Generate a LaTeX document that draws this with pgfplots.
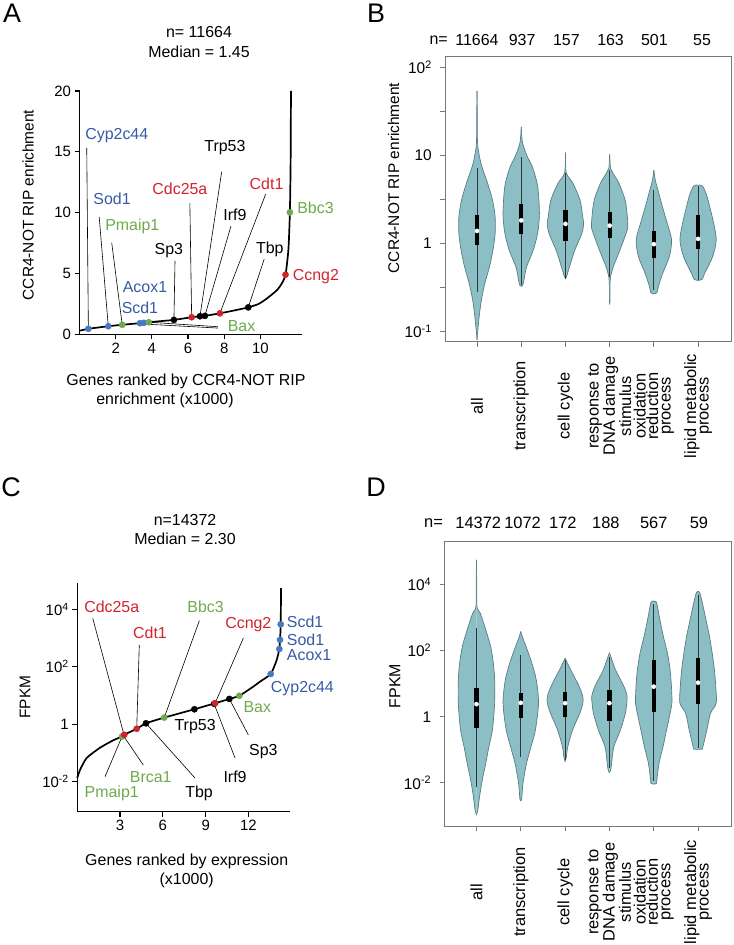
\documentclass[border=0pt]{standalone}
\usepackage{fontspec}
\setmainfont{Liberation Sans}
\usepackage{pgfplots}
\pgfplotsset{compat=1.18}
\usepackage{pgfplotstable}

\definecolor{cred}{RGB}{210,35,45}
\definecolor{cblue}{RGB}{55,90,165}
\definecolor{cbluedot}{RGB}{70,120,195}
\definecolor{cgreen}{RGB}{110,170,75}
\definecolor{vfill}{RGB}{139,190,197}
\definecolor{vout}{RGB}{90,125,130}
\definecolor{wcol}{RGB}{45,55,55}
\definecolor{fgray}{RGB}{120,120,120}

\newcommand\fs[1]{\fontsize{#1}{#1}\selectfont}

% ---- violin outlines, panel B (v = log10 value, w = half width) ----
\pgfplotstableread{
v w
1.73 0.000
1.45 0.006
1.14 0.012
1.00 0.05
0.87 0.11
0.68 0.24
0.49 0.35
0.30 0.41
0.11 0.41
-0.08 0.36
-0.27 0.28
-0.45 0.18
-0.64 0.10
-0.83 0.05
-1.02 0.012
-1.10 0.000
}\vBa
\pgfplotstableread{
v w
1.32 0.000
1.14 0.03
0.98 0.14
0.87 0.25
0.68 0.36
0.49 0.40
0.30 0.41
0.11 0.37
-0.08 0.27
-0.27 0.12
-0.42 0.06
-0.48 0.03
-0.49 0.000
}\vBb
\pgfplotstableread{
v w
1.03 0.000
0.80 0.02
0.68 0.17
0.49 0.33
0.30 0.39
0.22 0.41
0.11 0.37
-0.08 0.21
-0.27 0.09
-0.37 0.03
-0.40 0.000
}\vBc
\pgfplotstableread{
v w
1.01 0.000
0.85 0.02
0.79 0.08
0.68 0.21
0.49 0.35
0.30 0.40
0.18 0.41
0.11 0.37
-0.08 0.23
-0.27 0.08
-0.38 0.02
-0.45 0.008
-0.66 0.006
-0.67 0.000
}\vBd
\pgfplotstableread{
v w
0.83 0.000
0.72 0.03
0.60 0.094
0.42 0.19
0.23 0.30
0.04 0.40
-0.15 0.35
-0.34 0.20
-0.49 0.10
-0.56 0.07
-0.575 0.000
}\vBe
\pgfplotstableread{
v w
0.66 0.000
0.65 0.10
0.55 0.19
0.42 0.26
0.23 0.35
0.04 0.41
-0.15 0.33
-0.34 0.15
-0.41 0.09
-0.42 0.000
}\vBf

% ---- violin outlines, panel D ----
\pgfplotstableread{
v w
4.75 0.000
4.00 0.006
3.33 0.012
3.13 0.087
2.63 0.21
2.12 0.32
1.62 0.38
1.11 0.41
0.41 0.41
-0.40 0.36
-0.91 0.28
-1.41 0.21
-1.92 0.13
-2.42 0.07
-2.83 0.03
-2.98 0.000
}\vDa
\pgfplotstableread{
v w
2.58 0.000
2.40 0.04
2.12 0.12
1.62 0.25
1.11 0.35
0.41 0.40
-0.40 0.33
-0.91 0.23
-1.41 0.13
-1.92 0.06
-2.22 0.035
-2.50 0.02
-2.55 0.000
}\vDb
\pgfplotstableread{
v w
1.77 0.000
1.60 0.06
1.41 0.13
0.91 0.32
0.61 0.40
0.41 0.40
0.10 0.33
-0.40 0.17
-0.91 0.06
-1.20 0.03
-1.36 0.000
}\vDc
\pgfplotstableread{
v w
1.94 0.000
1.75 0.05
1.41 0.14
0.91 0.33
0.61 0.40
0.41 0.39
0.10 0.36
-0.40 0.25
-0.91 0.10
-1.41 0.05
-1.60 0.03
-1.70 0.000
}\vDd
\pgfplotstableread{
v w
3.48 0.000
3.47 0.06
2.93 0.14
2.42 0.22
1.92 0.31
1.41 0.37
0.91 0.40
0.61 0.41
0.41 0.41
0.10 0.37
-0.40 0.29
-0.91 0.21
-1.41 0.12
-1.92 0.07
-2.02 0.06
-2.04 0.000
}\vDe
\pgfplotstableread{
v w
3.79 0.000
3.75 0.04
3.43 0.10
2.93 0.18
2.42 0.26
1.92 0.32
1.41 0.37
0.91 0.40
0.41 0.41
0.10 0.28
-0.40 0.20
-0.91 0.11
-0.98 0.10
-0.99 0.000
}\vDf

% each violin: right and left halves, each filled and closed along the centre line
\newcommand\violin[2]{%
 \addplot[fill=vfill, draw=vout, line width=0.7bp, smooth, tension=0.5] table[x expr={#1+\thisrow{w}}, y=v] {#2};
 \addplot[fill=vfill, draw=vout, line width=0.7bp, smooth, tension=0.5] table[x expr={#1-\thisrow{w}}, y=v] {#2};
}
% x, whisker top, whisker bottom, q3, q1, median
\newcommand\violbox[6]{%
 \addplot[wcol, line width=0.8bp] coordinates {(#1,#2) (#1,#3)};
 \addplot[black, line width=4.3bp] coordinates {(#1,#4) (#1,#5)};
 \addplot[only marks, mark=*, mark size=2.1bp, white, draw=white] coordinates {(#1,#6)};
}
% category labels, rotated, centred at height #1 (axis units), font size #2
\newcommand\catlabels[2]{%
 \node[rotate=90, align=center, font=\fontsize{#2}{12.5}\selectfont] at (0,#1) {all};
 \node[rotate=90, align=center, font=\fontsize{#2}{12.5}\selectfont] at (1,#1) {transcription};
 \node[rotate=90, align=center, font=\fontsize{#2}{12.5}\selectfont] at (2,#1) {cell cycle};
 \node[rotate=90, align=center, font=\fontsize{#2}{12.5}\selectfont] at (3,#1) {response to\\DNA damage\\stimulus};
 \node[rotate=90, align=center, font=\fontsize{#2}{12.5}\selectfont] at (4,#1) {oxidation\\reduction\\process};
 \node[rotate=90, align=center, font=\fontsize{#2}{12.5}\selectfont] at (5,#1) {lipid metabolic\\process};
}

\tikzset{lead/.style={line width=0.6bp, black}}
\pgfplotsset{
 curveaxis/.style={scale only axis, anchor=south west, clip=false,
  axis x line*=bottom, axis y line*=left, axis line style={line width=1.3bp},
  tick align=outside, major tick length=5bp, tick style={black, line width=1.1bp},
  ticklabel style={font=\fs{15}}, /pgf/number format/assume math mode=true},
 violaxis/.style={scale only axis, anchor=south west, clip=false,
  axis line style={fgray, line width=0.9bp},
  tick align=outside, major tick length=5bp, tick style={fgray, line width=0.9bp},
  xtick={0,1,2,3,4,5}, xtick pos=left, ytick pos=left,
  xmin=-0.717, xmax=5.76, xticklabels={},
  yticklabel style={font=\fs{15.5}, xshift=-5bp}},
 dot/.style={only marks, mark=*, mark size=3.1bp, color=#1}
}

\begin{document}
\begin{tikzpicture}[x=1bp,y=1bp]
\useasboundingbox (0,0) rectangle (734,945);

% ================= Panel A =================
\node[font=\fs{27}] at (12,932) {A};
\node[font=\fs{16}] at (199,913) {n= 11664};
\node[font=\fs{16}] at (199,893) {Median = 1.45};
\node[font=\fs{15.5}, rotate=90] at (28,740) {CCR4-NOT RIP enrichment};
\node[font=\fs{16}] at (186,563.3) {Genes ranked by CCR4-NOT RIP};
\node[font=\fs{16}] at (165,545) {enrichment (x1000)};

\begin{axis}[curveaxis, at={(79.5bp,610.6bp)}, width=222.5bp, height=243.4bp,
 xmin=0, xmax=12.3, ymin=0, ymax=20,
 xtick={2,4,6,8,10}, ytick={0,5,10,15,20}]
\addplot[black, line width=1.7bp, smooth, tension=0.35] coordinates {
(0,0.30) (0.49,0.46) (1.0,0.56) (1.59,0.67) (2.36,0.79) (3.34,0.92) (3.83,1.0)
(4.5,1.09) (5.22,1.19) (6.2,1.41) (6.66,1.49) (6.93,1.52) (7.76,1.73) (8.6,1.98)
(9.33,2.22) (9.9,2.5) (10.34,2.93) (10.9,3.61) (11.17,4.15) (11.39,4.91)
(11.55,7.0) (11.63,10.03) (11.67,14) (11.69,20)};
% leader lines
\draw[lead] (0.40,15.32) -- (0.49,0.46);
\draw[lead] (1.09,9.63) -- (1.59,0.67);
\draw[lead] (1.78,7.54) -- (2.36,0.79);
\draw[lead] (7.65,0.63) -- (3.83,1.0);
\draw[lead] (7.65,0.52) -- (3.90,0.82);
\draw[lead] (5.28,6.05) -- (5.22,1.19);
\draw[lead] (6.10,10.79) -- (6.20,1.41);
\draw[lead] (7.86,13.37) -- (6.66,1.49);
\draw[lead] (8.37,8.89) -- (6.93,1.52);
\draw[lead] (10.29,11.52) -- (7.76,1.73);
\draw[lead] (10.21,6.19) -- (9.33,2.22);
% dots
\addplot[dot=cbluedot] coordinates {(0.49,0.46) (1.59,0.67) (3.34,0.92) (3.56,0.95)};
\addplot[dot=cgreen] coordinates {(2.36,0.79) (3.83,1.0) (11.63,10.03)};
\addplot[dot=black] coordinates {(5.22,1.19) (6.66,1.49) (6.93,1.52) (9.33,2.22)};
\addplot[dot=cred] coordinates {(6.20,1.41) (7.76,1.73) (11.39,4.91)};
% gene labels
\node[font=\fs{16}, cblue] at (2.06,16.35) {Cyp2c44};
\node[font=\fs{16}, cblue] at (1.80,11.17) {Sod1};
\node[font=\fs{16}, cgreen] at (2.92,8.89) {Pmaip1};
\node[font=\fs{16}] at (8.04,15.34) {Trp53};
\node[font=\fs{16}, cred] at (5.55,12.0) {Cdc25a};
\node[font=\fs{16}, cred] at (10.34,12.41) {Cdt1};
\node[font=\fs{16}] at (8.59,9.85) {Irf9};
\node[font=\fs{16}] at (4.94,6.92) {Sp3};
\node[font=\fs{16}] at (10.52,7.0) {Tbp};
\node[font=\fs{16}, cblue] at (3.62,3.88) {Acox1};
\node[font=\fs{16}, cblue] at (3.34,2.17) {Scd1};
\node[font=\fs{16}, cgreen] at (8.96,0.71) {Bax};
\node[font=\fs{16}, cred, anchor=west, inner sep=0pt] at (11.78,4.75) {Ccng2};
\node[font=\fs{16}, cgreen, anchor=west, inner sep=0pt] at (12.03,10.38) {Bbc3};
\end{axis}

% ================= Panel B =================
\node[font=\fs{27}] at (376,932) {B};
\node[font=\fs{15.5}, rotate=90] at (393.7,767) {CCR4-NOT RIP enrichment};

\begin{axis}[violaxis, at={(445.3bp,603.3bp)}, width=286.4bp, height=285bp,
 ymin=-1.117, ymax=2.118,
 ytick={-1,-0.5,0,0.5,1,1.5,2},
 yticklabels={10\textsuperscript{-1},,1,,10,,10\textsuperscript{2}}]
\violin{0}{\vBa}
\violin{1}{\vBb}
\violin{2}{\vBc}
\violin{3}{\vBd}
\violin{4}{\vBe}
\violin{5}{\vBf}
\violbox{0}{0.85}{-0.55}{0.32}{-0.02}{0.14}
\violbox{1}{0.98}{-0.47}{0.45}{0.11}{0.26}
\violbox{2}{0.80}{-0.40}{0.38}{0.03}{0.22}
\violbox{3}{0.83}{-0.38}{0.36}{0.06}{0.20}
\violbox{4}{0.60}{-0.53}{0.14}{-0.17}{-0.01}
\violbox{5}{0.65}{-0.42}{0.32}{-0.07}{0.05}
\catlabels{-1.847}{16.5}
\node[font=\fs{16}] at (-0.866,2.308) {n=};
\node[font=\fs{16}] at (0,2.308) {11664};
\node[font=\fs{16}] at (1.02,2.308) {937};
\node[font=\fs{16}] at (2.02,2.308) {157};
\node[font=\fs{16}] at (3.02,2.308) {163};
\node[font=\fs{16}] at (4.01,2.308) {501};
\node[font=\fs{16}] at (5.09,2.308) {55};
\end{axis}

% ================= Panel C =================
\node[font=\fs{27}] at (11,458) {C};
\node[font=\fs{16}] at (185,425) {n=14372};
\node[font=\fs{16}] at (185,405.7) {Median = 2.30};
\node[font=\fs{15.5}, rotate=90] at (25,248) {FPKM};
\node[font=\fs{16}] at (186.7,83.3) {Genes ranked by expression};
\node[font=\fs{16}] at (186.7,65) {(x1000)};

\begin{axis}[curveaxis, at={(77.2bp,133.3bp)}, width=212.8bp, height=228.4bp,
 xmin=0, xmax=14.91, ymin=-3.05, ymax=4.91,
 xtick={3,6,9,12}, ytick={-2,0,2,4},
 yticklabels={10\textsuperscript{-2},1,10\textsuperscript{2},10\textsuperscript{4}}]
\addplot[black, line width=1.7bp, smooth, tension=0.35] coordinates {
(0,-1.88) (0.2,-1.59) (0.66,-1.18) (1.6,-0.82) (2.53,-0.56) (3.14,-0.43) (3.28,-0.37)
(4.17,-0.16) (4.82,0.03) (6.1,0.23) (8.21,0.52) (9.66,0.73) (10.66,0.88) (11.36,0.99)
(12.34,1.31) (12.8,1.48) (13.56,1.75) (13.98,2.24) (14.16,2.62) (14.21,2.94)
(14.26,3.48) (14.28,4.74)};
% leader lines
\draw[lead] (1.09,3.69) -- (3.28,-0.37);
\draw[lead] (4.35,2.76) -- (4.17,-0.16);
\draw[lead] (8.56,3.61) -- (6.10,0.23);
\draw[lead] (11.64,3.0) -- (9.66,0.73);
\draw[lead] (1.95,-1.83) -- (3.14,-0.43);
\draw[lead] (4.63,-1.42) -- (3.30,-0.45);
\draw[lead] (8.26,-1.88) -- (4.82,0.03);
\draw[lead] (11.06,-1.18) -- (9.60,0.70);
\draw[lead] (11.99,-0.37) -- (10.66,0.88);
% dots
\addplot[dot=black] coordinates {(9.60,0.71) (4.82,0.03) (8.21,0.52) (10.66,0.88)};
\addplot[dot=cgreen] coordinates {(3.14,-0.43) (3.22,-0.41) (6.10,0.23) (11.36,0.99)};
\addplot[dot=cred] coordinates {(3.30,-0.37) (4.17,-0.16) (9.66,0.73)};
\addplot[dot=cbluedot] coordinates {(13.56,1.75) (14.16,2.62) (14.21,2.94) (14.26,3.48)};
% gene labels
\node[font=\fs{16}, cred] at (2.42,4.10) {Cdc25a};
\node[font=\fs{16}, cred] at (5.10,3.17) {Cdt1};
\node[font=\fs{16}, cgreen] at (9.0,4.10) {Bbc3};
\node[font=\fs{16}, cred] at (11.99,3.46) {Ccng2};
\node[font=\fs{16}, cblue, anchor=west, inner sep=0pt] at (14.68,3.57) {Scd1};
\node[font=\fs{16}, cblue, anchor=west, inner sep=0pt] at (14.68,2.94) {Sod1};
\node[font=\fs{16}, cblue, anchor=west, inner sep=0pt] at (14.68,2.41) {Acox1};
\node[font=\fs{16}, cblue, anchor=west, inner sep=0pt] at (13.56,1.25) {Cyp2c44};
\node[font=\fs{16}, cgreen, anchor=west, inner sep=0pt] at (11.64,0.61) {Bax};
\node[font=\fs{16}] at (8.26,-0.08) {Trp53};
\node[font=\fs{16}] at (13.04,-0.95) {Sp3};
\node[font=\fs{16}] at (11.06,-1.83) {Irf9};
\node[font=\fs{16}] at (8.54,-2.40) {Tbp};
\node[font=\fs{16}, cgreen] at (5.15,-1.83) {Brca1};
\node[font=\fs{16}, cgreen] at (2.42,-2.40) {Pmaip1};
\end{axis}

% ================= Panel D =================
\node[font=\fs{27}] at (376,457.5) {D};
\node[font=\fs{16}, rotate=90] at (395,259) {FPKM};

\begin{axis}[violaxis, at={(444.7bp,119bp)}, width=287bp, height=284.3bp,
 ymin=-3.31, ymax=5.30,
 ytick={-2,0,2,4},
 yticklabels={10\textsuperscript{-2},1,10\textsuperscript{2},10\textsuperscript{4}}]
\violin{0}{\vDa}
\violin{1}{\vDb}
\violin{2}{\vDc}
\violin{3}{\vDd}
\violin{4}{\vDe}
\violin{5}{\vDf}
\violbox{0}{2.68}{-2.12}{0.86}{-0.33}{0.38}
\violbox{1}{1.87}{-1.21}{0.71}{-0.05}{0.42}
\violbox{2}{1.72}{-1.31}{0.76}{0.0}{0.41}
\violbox{3}{1.82}{-1.56}{0.81}{-0.12}{0.41}
\violbox{4}{3.40}{-1.95}{1.72}{0.15}{0.91}
\violbox{5}{3.70}{-0.95}{1.77}{0.38}{1.03}
\catlabels{-5.31}{16.5}
\node[font=\fs{16.5}] at (-0.97,5.86) {n=};
\node[font=\fs{16.5}] at (0.04,5.86) {14372};
\node[font=\fs{16.5}] at (1.04,5.86) {1072};
\node[font=\fs{16.5}] at (1.95,5.86) {172};
\node[font=\fs{16.5}] at (2.92,5.86) {188};
\node[font=\fs{16.5}] at (4.0,5.86) {567};
\node[font=\fs{16.5}] at (5.02,5.86) {59};
\end{axis}
\end{tikzpicture}
\end{document}
